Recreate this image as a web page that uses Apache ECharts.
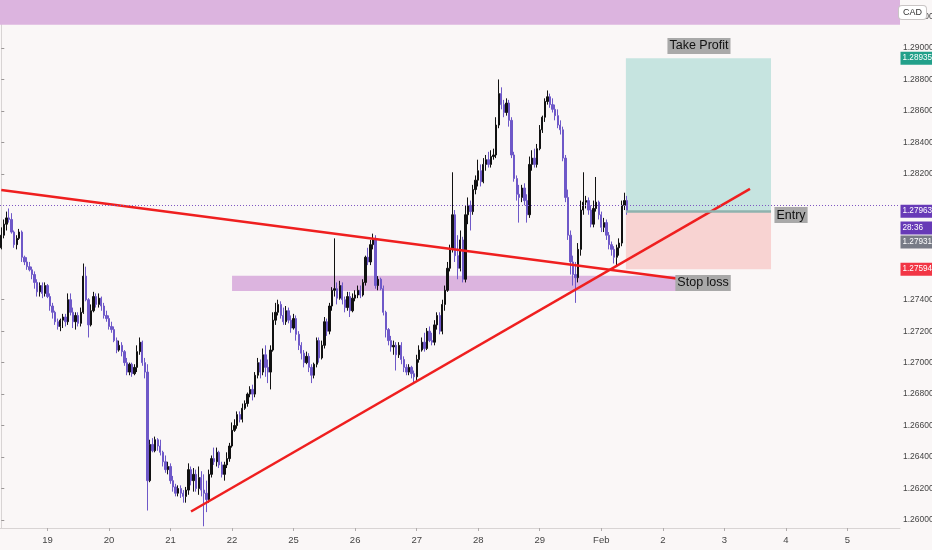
<!DOCTYPE html>
<html>
<head>
<meta charset="utf-8">
<script src="https://cdn.jsdelivr.net/npm/echarts@6/dist/echarts.min.js"></script>
<style>
  html, body { margin: 0; padding: 0; background: #faf7f7; }
  #chart { width: 932px; height: 550px; }
</style>
</head>
<body>
<div id="chart"></div>
<script>
// hourly candles, [open, close, low, high]
var ohlc = [
  [1.2773,1.2781,1.2772,1.2786],[1.2781,1.2788,1.2779,1.2791],[1.2788,1.2792,1.2784,1.2796],[1.2792,1.2791,1.2789,1.2798],
  [1.2791,1.2783,1.2782,1.2795],[1.2783,1.2775,1.2773,1.2784],[1.2775,1.2779,1.2772,1.2781],[1.2779,1.2783,1.2778,1.2785],
  [1.2783,1.2767,1.2764,1.2784],[1.2767,1.2764,1.2762,1.2768],[1.2764,1.2761,1.2759,1.2767],[1.2761,1.2759,1.2758,1.2764],
  [1.2759,1.2756,1.2753,1.2761],[1.2756,1.2751,1.2747,1.2758],[1.2751,1.2745,1.2742,1.2753],[1.2745,1.2749,1.2742,1.2751],
  [1.2749,1.2744,1.2741,1.2751],[1.2744,1.2749,1.2742,1.2751],[1.2749,1.2742,1.2741,1.2750],[1.2742,1.2736,1.2733,1.2744],
  [1.2736,1.2732,1.2728,1.2738],[1.2732,1.2726,1.2724,1.2733],[1.2726,1.2723,1.2721,1.2728],[1.2723,1.2727,1.2720,1.2728],
  [1.2727,1.2729,1.2722,1.2731],[1.2729,1.2726,1.2723,1.2731],[1.2726,1.2740,1.2724,1.2744],[1.2740,1.2732,1.2730,1.2744],
  [1.2732,1.2726,1.2722,1.2735],[1.2726,1.2730,1.2721,1.2732],[1.2730,1.2725,1.2723,1.2732],[1.2725,1.2732,1.2723,1.2735],
  [1.2732,1.2755,1.2731,1.2763],[1.2755,1.2740,1.2739,1.2761],[1.2740,1.2724,1.2716,1.2741],[1.2724,1.2733,1.2723,1.2737],
  [1.2733,1.2742,1.2732,1.2745],[1.2742,1.2737,1.2735,1.2744],[1.2737,1.2741,1.2735,1.2744],[1.2741,1.2736,1.2733,1.2742],
  [1.2736,1.2730,1.2728,1.2738],[1.2730,1.2728,1.2726,1.2733],[1.2728,1.2723,1.2721,1.2730],[1.2723,1.2721,1.2719,1.2726],
  [1.2721,1.2714,1.2713,1.2723],[1.2714,1.2708,1.2706,1.2716],[1.2708,1.2711,1.2707,1.2714],[1.2711,1.2707,1.2704,1.2713],
  [1.2707,1.2700,1.2698,1.2708],[1.2700,1.2694,1.2692,1.2703],[1.2694,1.2699,1.2692,1.2700],[1.2699,1.2693,1.2691,1.2700],
  [1.2693,1.2697,1.2692,1.2699],[1.2697,1.2707,1.2694,1.2711],[1.2707,1.2713,1.2705,1.2716],[1.2713,1.2700,1.2698,1.2714],
  [1.2700,1.2694,1.2690,1.2703],[1.2694,1.2625,1.2606,1.2699],[1.2625,1.2648,1.2624,1.2651],[1.2648,1.2644,1.2643,1.2652],
  [1.2644,1.2651,1.2643,1.2653],[1.2651,1.2647,1.2644,1.2652],[1.2647,1.2643,1.2641,1.2651],[1.2643,1.2637,1.2634,1.2644],
  [1.2637,1.2632,1.2630,1.2641],[1.2632,1.2634,1.2629,1.2637],[1.2634,1.2625,1.2623,1.2636],[1.2625,1.2621,1.2618,1.2628],
  [1.2621,1.2617,1.2615,1.2623],[1.2617,1.2620,1.2615,1.2622],[1.2620,1.2617,1.2614,1.2622],[1.2617,1.2615,1.2611,1.2619],
  [1.2615,1.2619,1.2611,1.2621],[1.2619,1.2632,1.2616,1.2636],[1.2632,1.2625,1.2622,1.2634],[1.2625,1.2629,1.2618,1.2633],
  [1.2629,1.2620,1.2618,1.2632],[1.2620,1.2627,1.2616,1.2634],[1.2627,1.2619,1.2615,1.2631],[1.2619,1.2617,1.2596,1.2629],
  [1.2617,1.2613,1.2605,1.2625],[1.2613,1.2629,1.2611,1.2632],[1.2629,1.2639,1.2627,1.2641],[1.2639,1.2637,1.2635,1.2646],
  [1.2637,1.2643,1.2634,1.2646],[1.2643,1.2635,1.2633,1.2644],[1.2635,1.2629,1.2627,1.2637],[1.2629,1.2635,1.2625,1.2637],
  [1.2635,1.2639,1.2633,1.2643],[1.2639,1.2647,1.2637,1.2649],[1.2647,1.2657,1.2646,1.2662],[1.2657,1.2660,1.2656,1.2664],
  [1.2660,1.2667,1.2658,1.2669],[1.2667,1.2664,1.2662,1.2669],[1.2664,1.2671,1.2662,1.2674],[1.2671,1.2674,1.2670,1.2676],
  [1.2674,1.2680,1.2672,1.2681],[1.2680,1.2683,1.2678,1.2685],[1.2683,1.2680,1.2676,1.2686],[1.2680,1.2692,1.2678,1.2694],
  [1.2692,1.2700,1.2690,1.2703],[1.2700,1.2694,1.2690,1.2702],[1.2694,1.2705,1.2692,1.2709],[1.2705,1.2697,1.2691,1.2711],
  [1.2697,1.2694,1.2687,1.2702],[1.2694,1.2708,1.2683,1.2711],[1.2708,1.2727,1.2707,1.2732],[1.2727,1.2732,1.2724,1.2738],
  [1.2732,1.2737,1.2730,1.2740],[1.2737,1.2730,1.2728,1.2739],[1.2730,1.2726,1.2724,1.2735],[1.2726,1.2733,1.2724,1.2736],
  [1.2733,1.2727,1.2725,1.2735],[1.2727,1.2722,1.2719,1.2730],[1.2722,1.2728,1.2721,1.2731],[1.2728,1.2718,1.2714,1.2730],
  [1.2718,1.2711,1.2708,1.2720],[1.2711,1.2706,1.2702,1.2713],[1.2706,1.2700,1.2697,1.2708],[1.2700,1.2704,1.2699,1.2707],
  [1.2704,1.2697,1.2694,1.2706],[1.2697,1.2692,1.2687,1.2699],[1.2692,1.2699,1.2690,1.2700],[1.2699,1.2714,1.2697,1.2716],
  [1.2714,1.2703,1.2700,1.2716],[1.2703,1.2711,1.2702,1.2714],[1.2711,1.2726,1.2709,1.2729],[1.2726,1.2720,1.2717,1.2728],
  [1.2720,1.2736,1.2718,1.2738],[1.2736,1.2746,1.2733,1.2748],[1.2746,1.2747,1.2742,1.2779],[1.2747,1.2741,1.2737,1.2751],
  [1.2741,1.2749,1.2740,1.2752],[1.2749,1.2740,1.2737,1.2751],[1.2740,1.2735,1.2732,1.2742],[1.2735,1.2742,1.2733,1.2745],
  [1.2742,1.2733,1.2729,1.2745],[1.2733,1.2741,1.2732,1.2744],[1.2741,1.2743,1.2739,1.2746],[1.2743,1.2746,1.2741,1.2749],
  [1.2746,1.2743,1.2741,1.2749],[1.2743,1.2751,1.2742,1.2753],[1.2751,1.2767,1.2749,1.2768],[1.2767,1.2764,1.2762,1.2773],
  [1.2764,1.2775,1.2762,1.2778],[1.2775,1.2778,1.2772,1.2782],[1.2778,1.2749,1.2747,1.2781],[1.2749,1.2753,1.2746,1.2755],
  [1.2753,1.2747,1.2746,1.2754],[1.2747,1.2732,1.2730,1.2749],[1.2732,1.2721,1.2716,1.2733],[1.2721,1.2714,1.2711,1.2722],
  [1.2714,1.2710,1.2707,1.2717],[1.2710,1.2711,1.2705,1.2714],[1.2711,1.2705,1.2695,1.2713],[1.2705,1.2711,1.2703,1.2713],
  [1.2711,1.2702,1.2699,1.2713],[1.2702,1.2697,1.2694,1.2704],[1.2697,1.2694,1.2692,1.2699],[1.2694,1.2697,1.2692,1.2699],
  [1.2697,1.2693,1.2690,1.2698],[1.2693,1.2691,1.2687,1.2695],[1.2691,1.2702,1.2689,1.2705],[1.2702,1.2708,1.2700,1.2711],
  [1.2708,1.2713,1.2707,1.2716],[1.2713,1.2709,1.2707,1.2719],[1.2709,1.2720,1.2708,1.2722],[1.2720,1.2714,1.2713,1.2723],
  [1.2714,1.2713,1.2711,1.2719],[1.2713,1.2724,1.2711,1.2727],[1.2724,1.2730,1.2721,1.2732],[1.2730,1.2720,1.2718,1.2732],
  [1.2720,1.2737,1.2718,1.2740],[1.2737,1.2746,1.2733,1.2749],[1.2746,1.2760,1.2745,1.2764],[1.2760,1.2772,1.2758,1.2775],
  [1.2772,1.2794,1.2770,1.2821],[1.2794,1.2768,1.2764,1.2797],[1.2768,1.2760,1.2753,1.2781],[1.2760,1.2778,1.2758,1.2784],
  [1.2778,1.2753,1.2751,1.2780],[1.2753,1.2794,1.2751,1.2800],[1.2794,1.2800,1.2788,1.2805],[1.2800,1.2796,1.2784,1.2803],
  [1.2796,1.2810,1.2794,1.2813],[1.2810,1.2816,1.2807,1.2819],[1.2816,1.2822,1.2812,1.2829],[1.2822,1.2815,1.2812,1.2826],
  [1.2815,1.2826,1.2814,1.2830],[1.2826,1.2829,1.2822,1.2832],[1.2829,1.2826,1.2824,1.2834],[1.2826,1.2831,1.2824,1.2835],
  [1.2831,1.2832,1.2829,1.2836],[1.2832,1.2851,1.2830,1.2856],[1.2851,1.2871,1.2849,1.2880],[1.2871,1.2864,1.2861,1.2875],
  [1.2864,1.2859,1.2856,1.2867],[1.2859,1.2865,1.2857,1.2868],[1.2865,1.2854,1.2850,1.2867],[1.2854,1.2832,1.2830,1.2856],
  [1.2832,1.2817,1.2815,1.2834],[1.2817,1.2807,1.2803,1.2819],[1.2807,1.2805,1.2789,1.2813],[1.2805,1.2811,1.2802,1.2813],
  [1.2811,1.2803,1.2800,1.2814],[1.2803,1.2794,1.2789,1.2807],[1.2794,1.2826,1.2792,1.2831],[1.2826,1.2830,1.2822,1.2835],
  [1.2830,1.2826,1.2824,1.2836],[1.2826,1.2836,1.2824,1.2839],[1.2836,1.2848,1.2835,1.2851],[1.2848,1.2856,1.2846,1.2857],
  [1.2856,1.2866,1.2853,1.2868],[1.2866,1.2869,1.2864,1.2873],[1.2869,1.2864,1.2862,1.2871],[1.2864,1.2861,1.2859,1.2868],
  [1.2861,1.2857,1.2854,1.2864],[1.2857,1.2851,1.2849,1.2861],[1.2851,1.2848,1.2845,1.2854],[1.2848,1.2830,1.2828,1.2850],
  [1.2830,1.2805,1.2802,1.2832],[1.2805,1.2781,1.2778,1.2810],[1.2781,1.2764,1.2756,1.2784],[1.2764,1.2756,1.2749,1.2768],
  [1.2756,1.2754,1.2738,1.2764],[1.2754,1.2772,1.2751,1.2776],[1.2772,1.2797,1.2768,1.2803],[1.2797,1.2802,1.2794,1.2821],
  [1.2802,1.2803,1.2798,1.2806],[1.2803,1.2797,1.2794,1.2805],[1.2797,1.2788,1.2786,1.2800],[1.2788,1.2798,1.2786,1.2803],
  [1.2798,1.2802,1.2796,1.2818],[1.2802,1.2794,1.2791,1.2803],[1.2794,1.2786,1.2783,1.2796],[1.2786,1.2789,1.2783,1.2792],
  [1.2789,1.2781,1.2778,1.2791],[1.2781,1.2775,1.2772,1.2783],[1.2775,1.2772,1.2768,1.2777],[1.2772,1.2767,1.2763,1.2774],
  [1.2767,1.2773,1.2761,1.2775],[1.2773,1.2776,1.2768,1.2779],[1.2776,1.2800,1.2774,1.2803],[1.2800,1.2803,1.2797,1.2808],
  [1.2803,1.2796,1.2794,1.2806]
];

// time axis: one slot per hour, day labels at the first hour of each day
var slotCount = 351;
var dayLabels = ['19', '20', '21', '22', '25', '26', '27', '28', '29', 'Feb', '2', '3', '4', '5'];
var dayStarts = [18, 42, 66, 90, 114, 138, 162, 186, 210, 234, 258, 282, 306, 330];

// price axis
var priceMin = 1.25949, priceMax = 1.29305;
var priceTicks = [1.260, 1.262, 1.264, 1.266, 1.268, 1.270, 1.272, 1.274, 1.282, 1.284, 1.286, 1.288, 1.290, 1.292];

// drawings: [slot, price]
var resistanceLine = [[0, 1.28097], [276, 1.27508]];
var supportLine = [[74, 1.26054], [292, 1.28105]];
var topZone = [1.29148, 1.29305];
var demandZone = {from: 90, to: 277, low: 1.27456, high: 1.27552};
var position = {from: 243.6, to: 300.2, entry: 1.27963, target: 1.28935, stop: 1.27594};

// tags on the price scale: [price it sits at, text, colour]
var lastPrice = 1.27963;
var priceTags = [
    [1.28935, '1.28935', '#22a08a'],
    [1.27963, '1.27963', '#673ab7'],
    [1.27856, '28:36', '#673ab7'],
    [1.27767, '1.27931', '#787b86'],
    [1.27594, '1.27594', '#f23645']
];

var UP = '#111111';
var DOWN = '#6e58c8';
var NARROW = "'Liberation Sans Narrow', 'Liberation Sans', sans-serif";
var CLEAR = 'rgba(0,0,0,0)';

var chart = echarts.init(document.getElementById('chart'));

// coloured tag sitting on the right price scale
function axisTag(t) {
    return {
        coord: [slotCount - 0.5, t[0]],
        symbol: 'rect',
        symbolSize: 1,
        itemStyle: {color: CLEAR},
        label: {
            show: true,
            position: 'right',
            distance: 0,
            formatter: t[1],
            backgroundColor: t[2],
            color: '#fff',
            fontFamily: NARROW,
            fontSize: 8.2,
            width: 30,
            align: 'left',
            padding: [3, 0, 2, 2]
        }
    };
}

function tagLabel(x, y, text) {
    return {
        coord: [x, y],
        symbol: 'rect',
        symbolSize: 1,
        itemStyle: {color: CLEAR},
        label: {
            show: true,
            position: 'inside',
            formatter: text,
            color: '#111',
            fontFamily: NARROW,
            fontSize: 12.5,
            backgroundColor: '#a9a9a9',
            padding: [2, 2, 1, 2]
        }
    };
}

var candleData = ohlc.map(function(d, i) {
    return [i, d[0], d[1], d[2], d[3]];
});

var option = {
    backgroundColor: '#faf7f7',
    animation: false,
    grid: {left: 0, right: 32, top: 0, bottom: 22, outerBoundsMode: 'none', containLabel: false},
    xAxis: {
        type: 'value',
        min: -0.5,
        max: slotCount - 0.5,
        splitLine: {show: false},
        axisLine: {show: true, lineStyle: {color: '#d8d4d4'}},
        axisTick: {show: true, customValues: dayStarts, length: 3, lineStyle: {color: '#b0acac'}},
        axisLabel: {
            customValues: dayStarts,
            color: '#444',
            fontFamily: NARROW,
            fontSize: 9.5,
            margin: 7,
            formatter: function(v) {
                var k = dayStarts.indexOf(Math.round(v));
                return k >= 0 ? dayLabels[k] : '';
            }
        }
    },
    yAxis: {
        type: 'value',
        position: 'right',
        min: priceMin,
        max: priceMax,
        scale: true,
        splitLine: {show: false},
        axisLine: {show: true, lineStyle: {color: '#d8d4d4'}},
        axisTick: {show: true, customValues: priceTicks, length: 3, lineStyle: {color: '#9a9696'}},
        axisLabel: {
            customValues: priceTicks,
            color: '#444',
            fontFamily: NARROW,
            fontSize: 8.5,
            margin: 3,
            formatter: function(v) { return v.toFixed(5); }
        }
    },
    series: [
        {
            // zones behind the candles
            type: 'line',
            data: [],
            z: 1,
            markArea: {
                silent: true,
                data: [
                    [{xAxis: -0.5, yAxis: topZone[0], itemStyle: {color: '#dcb4df'}}, {xAxis: slotCount - 0.5, yAxis: topZone[1]}],
                    [{xAxis: demandZone.from, yAxis: demandZone.low, itemStyle: {color: '#dcb4df'}}, {xAxis: demandZone.to, yAxis: demandZone.high}],
                    [{xAxis: position.from, yAxis: position.entry, itemStyle: {color: '#c6e4e0'}}, {xAxis: position.to, yAxis: position.target}],
                    [{xAxis: position.from, yAxis: position.stop, itemStyle: {color: '#f8d3d2'}}, {xAxis: position.to, yAxis: position.entry}]
                ]
            }
        },
        {
            type: 'candlestick',
            data: candleData,
            encode: {x: 0, y: [1, 2, 3, 4]},
            z: 2,
            barWidth: 1.8,
            itemStyle: {
                color: UP,
                color0: DOWN,
                borderColor: UP,
                borderColor0: DOWN,
                borderWidth: 1
            }
        },
        {
            // trend lines, price tags and text tags
            type: 'line',
            data: [],
            z: 5,
            markLine: {
                silent: true,
                symbol: 'none',
                label: {show: false},
                data: [
                    [{coord: resistanceLine[0], lineStyle: {color: '#ef1f1f', width: 2.5, type: 'solid'}}, {coord: resistanceLine[1]}],
                    [{coord: supportLine[0], lineStyle: {color: '#ef1f1f', width: 2.5, type: 'solid'}}, {coord: supportLine[1]}],
                    [{coord: [position.from, position.entry], lineStyle: {color: '#8fb2ae', width: 2.5, type: 'solid'}}, {coord: [position.to, position.entry]}],
                    {yAxis: lastPrice, lineStyle: {color: '#7e57c2', type: [1, 2], width: 1}}
                ]
            },
            markPoint: {
                silent: true,
                data: [
                    tagLabel(272.1, 1.29013, 'Take Profit'),
                    tagLabel(308, 1.27938, 'Entry'),
                    tagLabel(273.7, 1.27506, 'Stop loss')
                ].concat(priceTags.map(axisTag))
            }
        }
    ],
    graphic: [
        {
            type: 'text',
            right: 5,
            top: 5,
            z: 10,
            style: {
                text: 'CAD',
                fill: '#333',
                font: '9px ' + NARROW,
                backgroundColor: '#fff',
                borderColor: '#c9c5c5',
                borderWidth: 1,
                borderRadius: 3,
                padding: [2, 4]
            }
        }
    ]
};

chart.setOption(option);
</script>
</body>
</html>
